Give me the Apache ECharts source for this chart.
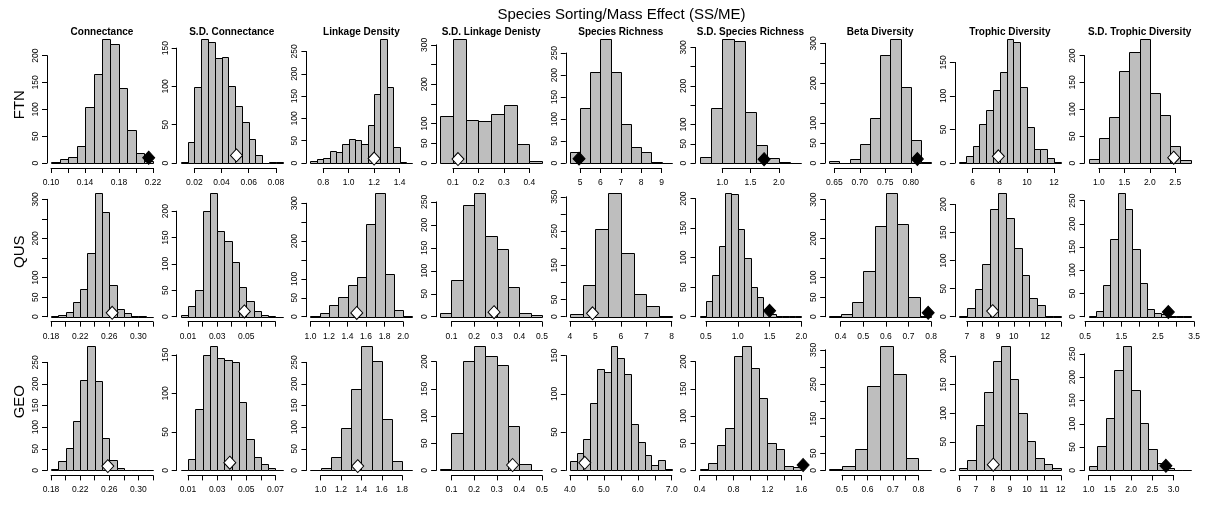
<!DOCTYPE html>
<html><head><meta charset="utf-8">
<script src="https://cdn.jsdelivr.net/npm/echarts/dist/echarts.min.js"></script>
<style>html,body{margin:0;padding:0;background:#fff}#c{width:1205px;height:506px}</style>
</head><body><div id="c"></div><script>
const chartTitle = 'Species Sorting/Mass Effect (SS/ME)';
const rowNames = ['FTN', 'QUS', 'GEO'];
const metricNames = ['Connectance', 'S.D. Connectance', 'Linkage Density', 'S.D. Linkage Denisty', 'Species Richness', 'S.D. Species Richness', 'Beta Diversity', 'Trophic Diversity', 'S.D. Trophic Diversity'];

// ---- FTN ----
const ftnBinStart = [0.10, 0.010, 0.70, 0.05, 4.5, 0.6, 0.64, 5.0, 0.8];
const ftnBinWidth = [0.01, 0.005, 0.05, 0.05, 0.5, 0.2, 0.02, 0.5, 0.2];
const ftnCounts = [
  [2, 8, 12, 32, 104, 165, 231, 222, 140, 62, 18, 4],
  [1, 27, 99, 162, 158, 137, 138, 101, 75, 54, 31, 10, 0, 1, 1],
  [4, 9, 11, 27, 24, 42, 54, 52, 43, 86, 154, 278, 171, 35, 2, 1],
  [120, 315, 109, 107, 124, 147, 48, 4],
  [24, 124, 208, 282, 206, 88, 36, 24, 2, 1],
  [15, 143, 322, 316, 133, 48, 13, 3, 1],
  [4, 1, 9, 47, 112, 270, 311, 190, 57, 2],
  [1, 11, 26, 58, 79, 109, 135, 185, 180, 113, 54, 21, 21, 8, 2],
  [7, 47, 86, 171, 206, 231, 131, 89, 32, 6]
];
const ftnObserved = [0.215, 0.051, 1.20, 0.12, 4.95, 1.74, 0.813, 7.9, 2.47];
const ftnSignificant = [true, false, false, false, true, true, true, false, false];
const ftnXTicks = [[0.10, 0.22, 0.02], [0.02, 0.08, 0.02], [0.8, 1.4, 0.2], [0.1, 0.4, 0.1], [5, 9, 1], [1.0, 2.0, 0.5], [0.65, 0.80, 0.05], [6, 12, 2], [1.0, 2.5, 0.5]];
const ftnXLabels = [["0.10","0.14","0.18","0.22"], ["0.02","0.04","0.06","0.08"], ["0.8","1.0","1.2","1.4"], ["0.1","0.2","0.3","0.4"], ["5","6","7","8","9"], ["1.0","1.5","2.0"], ["0.65","0.70","0.75","0.80"], ["6","8","10","12"], ["1.0","1.5","2.0","2.5"]];
const ftnYTicks = [[200, 50], [150, 50], [250, 50], [300, 50], [250, 50], [300, 50], [300, 50], [150, 50], [200, 50]];
const ftnYLabels = [[0,50,100,150,200], [0,50,100,150], [0,50,100,150,200,250], [0,50,100,200,300], [0,50,100,150,200,250], [0,50,100,200,300], [0,50,100,200,300], [0,50,100,150], [0,50,100,150,200]];

// ---- QUS ----
const qusBinStart = [0.18, 0.005, 1.0, 0.05, 4.0, 0.4, 0.35, 6.5, 0.6];
const qusBinWidth = [0.01, 0.005, 0.1, 0.05, 0.5, 0.1, 0.05, 0.5, 0.2];
const qusCounts = [
  [2, 5, 13, 38, 70, 162, 317, 268, 82, 21, 10, 3, 1, 0],
  [4, 20, 51, 200, 235, 162, 143, 104, 56, 30, 11, 3, 2, 0],
  [3, 11, 31, 52, 83, 106, 244, 328, 114, 19, 2],
  [9, 80, 243, 270, 176, 147, 64, 9, 3],
  [7, 92, 255, 362, 185, 66, 32, 2],
  [2, 27, 70, 120, 210, 207, 149, 100, 50, 34, 12, 4, 2, 1, 1, 1],
  [3, 6, 39, 118, 232, 318, 237, 51, 3],
  [2, 15, 50, 94, 192, 221, 175, 122, 75, 33, 21, 2, 1],
  [2, 12, 68, 168, 267, 232, 146, 73, 17, 8, 5, 2, 1, 1]
];
const qusObserved = [0.264, 0.0487, 1.50, 0.288, 4.89, 1.50, 0.787, 8.65, 2.79];
const qusSignificant = [false, false, false, false, false, true, true, false, true];
const qusXTicks = [[0.18, 0.32, 0.02], [0.01, 0.07, 0.01], [1.0, 2.0, 0.2], [0.1, 0.5, 0.1], [4, 8, 1], [0.5, 2.0, 0.5], [0.4, 0.8, 0.1], [7, 13, 1], [0.5, 3.5, 0.5]];
const qusXLabels = [["0.18","0.22","0.26","0.30"], ["0.01","0.03","0.05"], ["1.0","1.2","1.4","1.6","1.8","2.0"], ["0.1","0.2","0.3","0.4","0.5"], ["4","5","6","7","8"], ["0.5","1.0","1.5","2.0"], ["0.4","0.5","0.6","0.7","0.8"], ["7","8","9","10","12"], ["0.5","1.5","2.5","3.5"]];
const qusYTicks = [[300, 50], [200, 50], [300, 50], [250, 50], [350, 50], [200, 50], [300, 50], [200, 50], [250, 50]];
const qusYLabels = [[0,50,100,200,300], [0,50,100,150,200], [0,50,100,200,300], [0,50,100,150,200,250], [0,50,150,250,350], [0,50,100,150,200], [0,50,100,200,300], [0,50,100,150,200], [0,50,100,150,200,250]];

// ---- GEO ----
const geoBinStart = [0.18, 0.005, 0.9, 0.05, 4.0, 0.4, 0.45, 6.0, 1.0];
const geoBinWidth = [0.01, 0.005, 0.1, 0.05, 0.2, 0.1, 0.05, 0.5, 0.2];
const geoCounts = [
  [3, 21, 51, 114, 210, 287, 206, 75, 25, 5, 2, 1, 0, 0],
  [1, 15, 80, 150, 161, 146, 143, 141, 89, 41, 18, 9, 3, 0],
  [1, 5, 30, 98, 188, 287, 254, 118, 21, 2],
  [2, 68, 201, 228, 210, 194, 81, 12, 1],
  [12, 23, 41, 88, 133, 128, 162, 147, 126, 60, 37, 20, 7, 13, 2],
  [2, 13, 47, 78, 211, 228, 188, 133, 50, 39, 9, 6],
  [3, 13, 63, 244, 360, 279, 36, 1],
  [5, 19, 80, 138, 191, 217, 160, 100, 51, 22, 11, 4],
  [10, 53, 112, 215, 266, 172, 101, 47, 15, 5, 1, 1]
];
const geoObserved = [0.258, 0.0387, 1.364, 0.370, 4.44, 1.62, null, 8.02, 2.82];
const geoSignificant = [false, false, false, false, false, true, false, false, true];
const geoXTicks = [[0.18, 0.32, 0.02], [0.01, 0.07, 0.01], [1.0, 1.8, 0.2], [0.1, 0.5, 0.1], [4.0, 7.0, 0.5], [0.4, 1.6, 0.2], [0.5, 0.8, 0.05], [6, 12, 1], [1.0, 3.0, 0.5]];
const geoXLabels = [["0.18","0.22","0.26","0.30"], ["0.01","0.03","0.05","0.07"], ["1.0","1.2","1.4","1.6","1.8"], ["0.1","0.2","0.3","0.4","0.5"], ["4.0","5.0","6.0","7.0"], ["0.4","0.8","1.2","1.6"], ["0.5","0.6","0.7","0.8"], ["6","7","8","9","10","11","12"], ["1.0","1.5","2.0","2.5","3.0"]];
const geoYTicks = [[250, 50], [150, 50], [250, 50], [200, 50], [150, 50], [200, 50], [350, 50], [200, 50], [250, 50]];
const geoYLabels = [[0,50,100,150,200,250], [0,50,100,150], [0,50,100,150,200,250], [0,50,100,150,200], [0,50,100,150], [0,50,100,150,200], [0,50,150,250,350], [0,50,100,150,200], [0,50,100,150,200,250]];

// ---------------- build ----------------
const rowsData = [
  {start: ftnBinStart, width: ftnBinWidth, counts: ftnCounts, obs: ftnObserved, sig: ftnSignificant, xt: ftnXTicks, xl: ftnXLabels, yt: ftnYTicks, yl: ftnYLabels},
  {start: qusBinStart, width: qusBinWidth, counts: qusCounts, obs: qusObserved, sig: qusSignificant, xt: qusXTicks, xl: qusXLabels, yt: qusYTicks, yl: qusYLabels},
  {start: geoBinStart, width: geoBinWidth, counts: geoCounts, obs: geoObserved, sig: geoSignificant, xt: geoXTicks, xl: geoXLabels, yt: geoYTicks, yl: geoYLabels}
];

const FONT = 'Liberation Sans, Arial, Helvetica, sans-serif';
const PW = 110, PH = 134;
const colLeft = c => 47 + 129.7 * c;
const rowTop = r => 34 + 153.7 * r;
const rowLabelY = [104.7, 251.7, 401.7];

const grids = [], xAxes = [], yAxes = [], series = [], graphics = [];
const lineStyle = {color: '#000', width: 1};

function renderBar(params, api) {
  const x0 = api.value(0), x1 = api.value(1), v = api.value(2);
  const p0 = api.coord([x0, v]);
  const p1 = api.coord([x1, 0]);
  const l = Math.round(p0[0]) + 0.5, r = Math.round(p1[0]) + 0.5;
  const t = Math.round(p0[1]) + 0.5, b = Math.round(p1[1]) + 0.5;
  return {type: 'rect', shape: {x: l, y: t, width: r - l, height: b - t},
    style: {fill: '#bebebe', stroke: '#000', lineWidth: 1}};
}

rowsData.forEach((rd, r) => {
  for (let c = 0; c < 9; c++) {
    const counts = rd.counts[c];
    const b0 = rd.start[c], w = rd.width[c];
    const bN = b0 + w * counts.length;
    const xr = bN - b0;
    const xMin = b0 - 0.04 * xr, xMax = bN + 0.04 * xr;
    const M = Math.max.apply(null, counts);
    const yMin = -0.04 * M, yMax = 1.04 * M;
    const L = colLeft(c), T = rowTop(r);

    // plot region
    let g = grids.length;
    grids.push({left: L, top: T, width: PW, height: PH, outerBoundsMode: 'none'});
    xAxes.push({type: 'value', gridIndex: g, min: xMin, max: xMax, show: false});
    yAxes.push({type: 'value', gridIndex: g, min: yMin, max: yMax, show: false});
    series.push({type: 'custom', xAxisIndex: g, yAxisIndex: g, renderItem: renderBar,
      data: counts.map((v, i) => [b0 + i * w, b0 + (i + 1) * w, v]), silent: true});
    if (rd.obs[c] !== null) {
      series.push({type: 'scatter', xAxisIndex: g, yAxisIndex: g, symbol: 'diamond', symbolSize: [12, 13],
        data: [[rd.obs[c], 10]], z: 5, silent: true,
        itemStyle: {color: rd.sig[c] ? '#000' : '#fff', borderColor: '#000', borderWidth: 1, opacity: 1}});
    }

    // x axis (spans first..last tick)
    const [t0, tN, step] = rd.xt[c];
    const labs = rd.xl[c];
    const xl = L + (t0 - xMin) / (xMax - xMin) * PW;
    const xw = (tN - t0) / (xMax - xMin) * PW;
    g = grids.length;
    grids.push({left: xl, top: T, width: xw, height: PH, outerBoundsMode: 'none'});
    xAxes.push({type: 'value', gridIndex: g, min: t0, max: tN, interval: step,
      axisLine: {show: true, onZero: false, lineStyle},
      axisTick: {show: true, length: 5, lineStyle},
      splitLine: {show: false},
      axisLabel: {show: true, margin: 10, color: '#000', fontSize: 8.5, fontFamily: FONT,
        formatter: (val) => { const m = labs.find(s => Math.abs(parseFloat(s) - val) < step * 1e-3); return m || ''; }}});
    yAxes.push({type: 'value', gridIndex: g, min: 0, max: 1, show: false});

    // y axis (0..top tick)
    const [yTop, yStep] = rd.yt[c];
    const ylabs = rd.yl[c];
    const yt = T + (yMax - yTop) / (yMax - yMin) * PH;
    const yh = yTop / (yMax - yMin) * PH;
    g = grids.length;
    grids.push({left: L, top: yt, width: PW, height: yh, outerBoundsMode: 'none'});
    xAxes.push({type: 'value', gridIndex: g, min: 0, max: 1, show: false});
    yAxes.push({type: 'value', gridIndex: g, min: 0, max: yTop, interval: yStep,
      axisLine: {show: true, onZero: false, lineStyle},
      axisTick: {show: true, length: 5, lineStyle},
      splitLine: {show: false},
      axisLabel: {show: true, rotate: 90, margin: 7, color: '#000', fontSize: 8.5, fontFamily: FONT,
        formatter: (val) => ylabs.some(l => Math.abs(l - val) < 1e-6) ? String(val) : ''}});

    if (r === 0) {
      graphics.push({type: 'text', x: L + PW / 2, y: 32, silent: true,
        style: {text: metricNames[c], fill: '#000', font: 'bold 10px ' + FONT, textAlign: 'center', textVerticalAlign: 'middle'}});
    }
  }
  graphics.push({type: 'text', x: 20, y: rowLabelY[r], rotation: Math.PI / 2, silent: true,
    style: {text: rowNames[r], fill: '#000', font: '15px ' + FONT, textAlign: 'center', textVerticalAlign: 'middle'}});
});
graphics.push({type: 'text', x: 621.5, y: 15, silent: true,
  style: {text: chartTitle, fill: '#000', font: '15px ' + FONT, textAlign: 'center', textVerticalAlign: 'middle'}});

const chart = echarts.init(document.getElementById('c'), null, {renderer: 'canvas'});
chart.setOption({
  backgroundColor: '#fff',
  animation: false,
  grid: grids, xAxis: xAxes, yAxis: yAxes, series: series,
  graphic: graphics
});
</script></body></html>
